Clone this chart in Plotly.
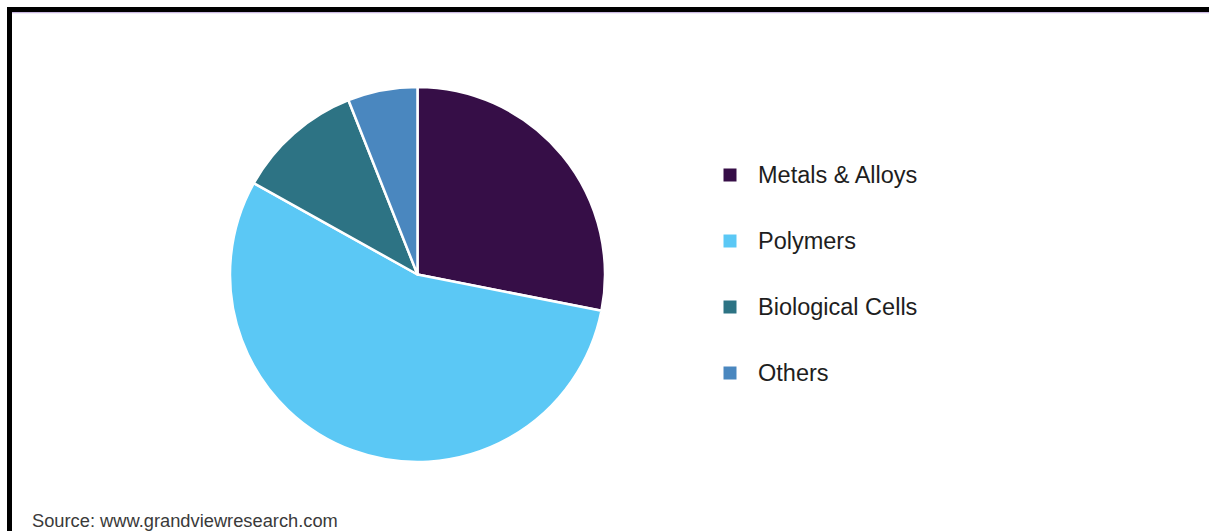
import plotly.graph_objects as go

# ---- data ----
categories = ["Metals & Alloys", "Polymers", "Biological Cells", "Others"]
shares = [28.1, 55.0, 10.9, 6.0]
colors = ["#360E47", "#5BC8F5", "#2D7384", "#4A87BF"]
source_text = "Source: www.grandviewresearch.com"

W, H = 1209, 531

def px(x):
    return x / W

def py(y):
    return 1 - y / H

fig = go.Figure()
fig.add_trace(go.Pie(
    labels=categories,
    values=shares,
    sort=False,
    direction="clockwise",
    rotation=0,
    marker=dict(colors=colors, line=dict(color="white", width=2.5)),
    textinfo="none",
    hoverinfo="label+percent",
    showlegend=False,
    domain=dict(x=[px(230), px(605)], y=[py(462), py(87)]),
))

shapes = []
annotations = []

# frame (top and left edges)
shapes.append(dict(type="rect", xref="paper", yref="paper",
                   x0=px(7), x1=1, y0=py(12), y1=py(7),
                   fillcolor="black", line=dict(width=0), layer="above"))
shapes.append(dict(type="rect", xref="paper", yref="paper",
                   x0=px(12), x1=1, y0=py(13.2), y1=py(12),
                   fillcolor="#C9B8E0", line=dict(width=0), layer="above"))
shapes.append(dict(type="rect", xref="paper", yref="paper",
                   x0=px(7), x1=px(12), y0=0, y1=py(7),
                   fillcolor="black", line=dict(width=0), layer="above"))

# manual legend
for i, (name, col) in enumerate(zip(categories, colors)):
    yc = 175 + i * 66
    shapes.append(dict(type="rect", xref="paper", yref="paper",
                       x0=px(723.5), x1=px(736.5), y0=py(yc + 6.5), y1=py(yc - 6.5),
                       fillcolor=col, line=dict(width=0)))
    annotations.append(dict(xref="paper", yref="paper", x=px(756), y=py(yc),
                            xanchor="left", yanchor="middle", showarrow=False,
                            text=name,
                            font=dict(family="Arial, Liberation Sans, sans-serif",
                                      size=23.5, color="#1E1E1E")))

annotations.append(dict(xref="paper", yref="paper", x=px(30), y=py(520),
                        xanchor="left", yanchor="middle", showarrow=False,
                        text=source_text,
                        font=dict(family="Arial, Liberation Sans, sans-serif",
                                  size=18.3, color="#3A3A3A")))

fig.update_layout(
    width=W, height=H, autosize=False,
    margin=dict(l=0, r=0, t=0, b=0),
    paper_bgcolor="white", plot_bgcolor="white",
    shapes=shapes, annotations=annotations,
    showlegend=False,
)

fig.write_html("out.html")
